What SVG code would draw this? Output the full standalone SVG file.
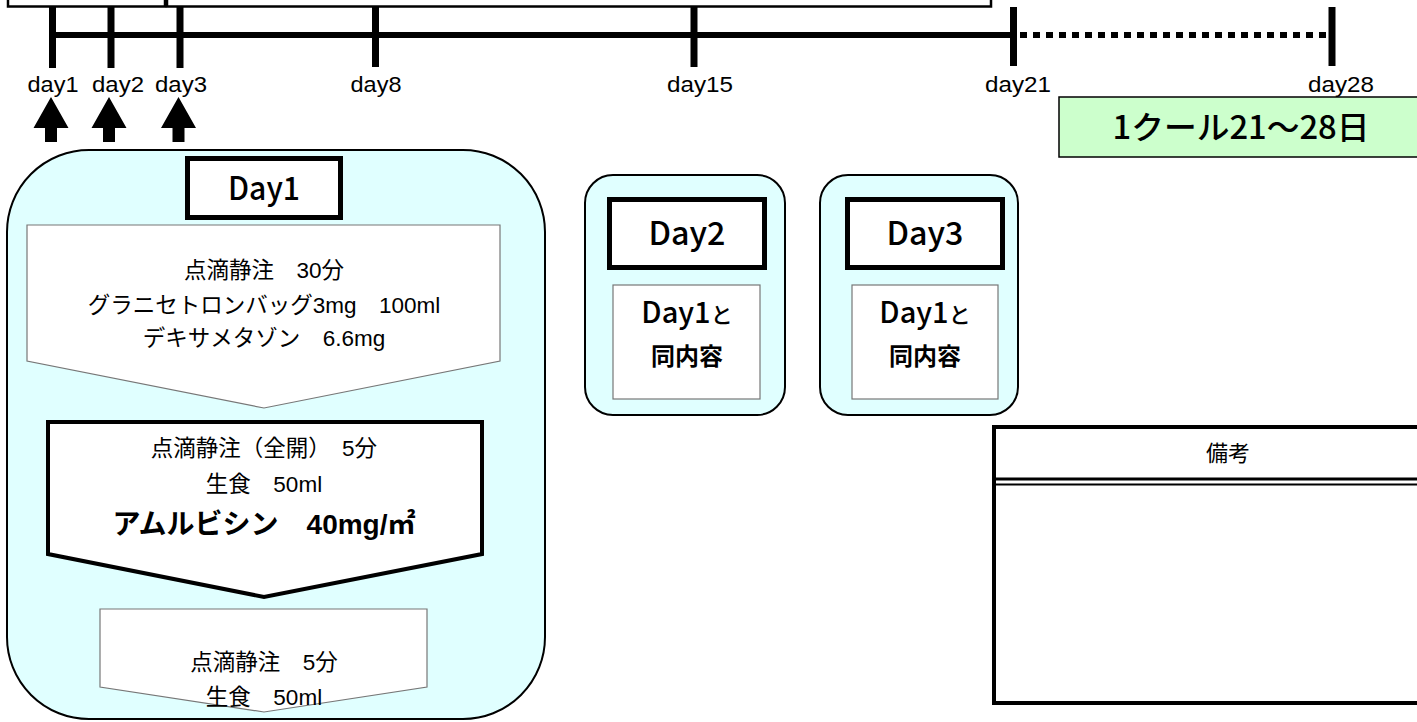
<svg xmlns="http://www.w3.org/2000/svg" width="1417" height="722" viewBox="0 0 1417 722">
<style>
text{font-family:"Liberation Sans","Noto Sans CJK JP",sans-serif;fill:#000}
.lbl{font-size:22px;text-anchor:middle}
.body{font-size:22.5px;text-anchor:middle}
.title{font-family:"Noto Sans CJK JP","Liberation Sans",sans-serif;font-weight:500;font-size:32px;text-anchor:middle}
.med{font-family:"Noto Sans CJK JP","Liberation Sans",sans-serif;font-weight:500}
.cyan{fill:#e0ffff;stroke:#000;stroke-width:2}
.tbox{fill:#fff;stroke:#000;stroke-width:5}
.gbox{fill:#fff;stroke:#777;stroke-width:1.2}
.tick{stroke:#000;stroke-width:7}
</style>
<rect width="1417" height="722" fill="#fff"/>
<g id="top-boxes">
<rect x="8" y="-10" width="157" height="16.5" fill="#fff" stroke="#000" stroke-width="2.5"/>
<rect x="167" y="-10" width="824" height="16.5" fill="#fff" stroke="#000" stroke-width="2.5"/>
</g>
<g id="timeline">
<line x1="52" y1="35" x2="1014" y2="35" stroke="#000" stroke-width="6"/>
<line x1="1020" y1="35" x2="1328" y2="35" stroke="#000" stroke-width="6" stroke-dasharray="7 6"/>
<line class="tick" x1="52.5" y1="7" x2="52.5" y2="68"/>
<line class="tick" x1="111" y1="7" x2="111" y2="68"/>
<line class="tick" x1="180" y1="7" x2="180" y2="68"/>
<line class="tick" x1="375.5" y1="7" x2="375.5" y2="67"/>
<line class="tick" x1="694" y1="7" x2="694" y2="67"/>
<line class="tick" x1="1013.5" y1="7" x2="1013.5" y2="66"/>
<line class="tick" x1="1332" y1="7" x2="1332" y2="66"/>
<text class="lbl" x="53" y="92" textLength="51" lengthAdjust="spacingAndGlyphs">day1</text>
<text class="lbl" x="118" y="92" textLength="52" lengthAdjust="spacingAndGlyphs">day2</text>
<text class="lbl" x="181" y="92" textLength="52" lengthAdjust="spacingAndGlyphs">day3</text>
<text class="lbl" x="376" y="92" textLength="51" lengthAdjust="spacingAndGlyphs">day8</text>
<text class="lbl" x="700" y="92" textLength="66" lengthAdjust="spacingAndGlyphs">day15</text>
<text class="lbl" x="1018" y="92" textLength="66" lengthAdjust="spacingAndGlyphs">day21</text>
<text class="lbl" x="1341" y="92" textLength="66" lengthAdjust="spacingAndGlyphs">day28</text>
</g>
<g id="connectors" fill="#000">
<path d="M51,97 L68.5,128 L57,128 L57,142 L45,142 L45,128 L33.5,128 Z"/>
<path d="M109,97 L126.5,128 L115,128 L115,142 L103,142 L103,128 L91.5,128 Z"/>
<path d="M178.5,97 L196,128 L184.5,128 L184.5,142 L172.5,142 L172.5,128 L161,128 Z"/>
</g>
<g id="cycle">
<rect x="1059" y="97" width="380" height="60" fill="#ccffcc" stroke="#000" stroke-width="1.5"/>
<text class="med" x="1241" y="139" font-size="32" text-anchor="middle" textLength="257" lengthAdjust="spacingAndGlyphs">1クール21～28日</text>
</g>
<g id="day1">
<rect class="cyan" x="7" y="150" width="538" height="569" rx="82" ry="82"/>
<rect class="tbox" x="187.5" y="158.5" width="153" height="59"/>
<text class="title" x="264" y="200" textLength="72" lengthAdjust="spacingAndGlyphs">Day1</text>
<path class="gbox" d="M27,225 L500,225 L500,361 L264,408 L27,361 Z"/>
<text class="body" x="264" y="278">点滴静注　30分</text>
<text class="body" x="264" y="313">グラニセトロンバッグ3mg　100ml</text>
<text class="body" x="264" y="346">デキサメタゾン　6.6mg</text>
<path d="M48,422 L482,422 L482,554 L264,597 L48,554 Z" fill="#fff" stroke="#000" stroke-width="4" stroke-linejoin="miter"/>
<text class="body" x="264" y="456">点滴静注（全開）　5分</text>
<text class="body" x="264" y="492">生食　50ml</text>
<text x="264" y="534" font-size="28" font-weight="bold" text-anchor="middle">アムルビシン　40mg/㎡</text>
<path class="gbox" d="M100,609 L427,609 L427,687 L264,712 L100,687 Z"/>
<text class="body" x="264" y="670">点滴静注　5分</text>
<text class="body" x="264" y="705">生食　50ml</text>
</g>
<g id="day2">
<rect class="cyan" x="585" y="175" width="200" height="240" rx="28" ry="28"/>
<rect class="tbox" x="609.5" y="199.5" width="155" height="68"/>
<text class="title" x="687" y="245" textLength="77" lengthAdjust="spacingAndGlyphs">Day2</text>
<rect class="gbox" x="613" y="285" width="147" height="114"/>
<text class="med" x="687" y="323" font-size="29" text-anchor="middle">Day1<tspan font-size="22">と</tspan></text>
<text x="687" y="365" font-size="24" font-weight="bold" text-anchor="middle">同内容</text>
</g>
<g id="day3">
<rect class="cyan" x="820" y="175" width="198" height="240" rx="28" ry="28"/>
<rect class="tbox" x="847.5" y="199.5" width="155" height="68"/>
<text class="title" x="925" y="245" textLength="77" lengthAdjust="spacingAndGlyphs">Day3</text>
<rect class="gbox" x="852" y="285" width="146" height="114"/>
<text class="med" x="925" y="323" font-size="29" text-anchor="middle">Day1<tspan font-size="22">と</tspan></text>
<text x="925" y="365" font-size="24" font-weight="bold" text-anchor="middle">同内容</text>
</g>
<g id="remarks">
<rect x="994" y="427" width="440" height="276" fill="#fff" stroke="#000" stroke-width="4"/>
<line x1="994" y1="479" x2="1417" y2="479" stroke="#000" stroke-width="3"/>
<line x1="994" y1="484.5" x2="1417" y2="484.5" stroke="#000" stroke-width="2"/>
<text x="1228" y="461" font-size="22" text-anchor="middle">備考</text>
</g>
</svg>
